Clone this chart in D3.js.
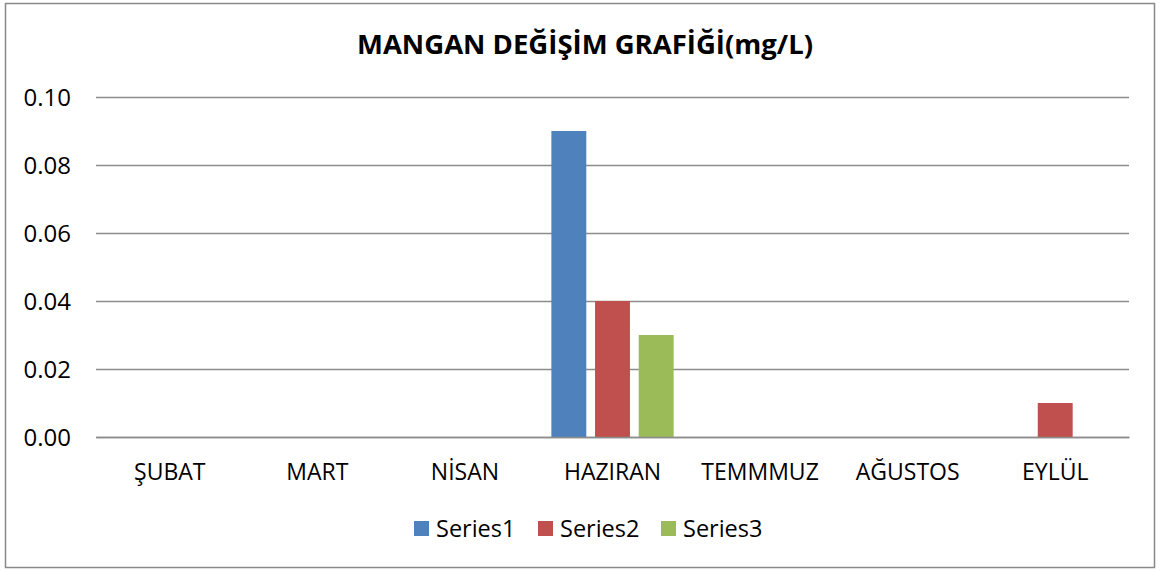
<!DOCTYPE html>
<html>
<head>
<meta charset="utf-8">
<script src="https://cdn.jsdelivr.net/npm/d3@7"></script>
<style>
  body { margin: 0; background: #fff; }
  text { font-family: "Open Sans", "Noto Sans", sans-serif; fill: #000; }
</style>
</head>
<body>
<svg class="svg-chart"></svg>
<script>
// months on the x axis
var months = ["ŞUBAT", "MART", "NİSAN", "HAZIRAN", "TEMMMUZ", "AĞUSTOS", "EYLÜL"];
var seriesNames = ["Series1", "Series2", "Series3"];
var series1 = [0, 0, 0, 0.09, 0, 0, 0];
var series2 = [0, 0, 0, 0.04, 0, 0, 0.01];
var series3 = [0, 0, 0, 0.03, 0, 0, 0];
var yTicks = [0, 0.02, 0.04, 0.06, 0.08, 0.10];
var colors = ["#4f81bd", "#c0504d", "#9bbb59"];
var title = "MANGAN DEĞİŞİM GRAFİĞİ(mg/L)";

var W = 1159, H = 570;
var margin = {top: 97, right: 30, bottom: 133, left: 96},
    width = W - margin.left - margin.right,
    height = H - margin.top - margin.bottom;

var svg = d3.select(".svg-chart")
    .attr("width", W)
    .attr("height", H);

// outer frame
svg.append("rect")
    .attr("x", 5.5).attr("y", 3.5)
    .attr("width", 1149).attr("height", 564)
    .style("fill", "#fff")
    .style("stroke", "#898989")
    .style("stroke-width", 1.5);

svg.append("text")
    .attr("x", 585).attr("y", 54)
    .attr("text-anchor", "middle")
    .style("font-weight", "bold")
    .style("font-size", "27.5px")
    .text(title);

var chart = svg.append("g")
    .attr("transform", "translate(" + margin.left + "," + margin.top + ")");

var x0 = d3.scaleBand()
    .domain(months)
    .range([0, width]);

var x1 = d3.scaleBand()
    .domain(seriesNames)
    .range([0, x0.bandwidth()])
    .paddingInner(0.2)
    .paddingOuter(0.29);

var y = d3.scaleLinear()
    .domain([0, 0.10])
    .range([height, 0]);

// gridlines + tick labels
var yAxis = d3.axisLeft(y)
    .tickValues(yTicks)
    .tickSize(-width)
    .tickPadding(25)
    .tickFormat(d3.format(".2f"));

var yg = chart.append("g").call(yAxis);
yg.select(".domain").remove();
yg.selectAll("line")
    .style("stroke", "#8c8c8c")
    .style("stroke-width", 1.5);
yg.selectAll("text")
    .style("font-size", "24px")
    .attr("dy", "0.36em");
yg.attr("font-family", null).attr("font-size", null);

var rows = seriesNames.map(function(s, i) {
  var vals = [series1, series2, series3][i];
  return months.map(function(m, j) { return {series: s, month: m, value: vals[j], i: i}; });
});

chart.selectAll(".series")
    .data(rows)
    .enter().append("g")
    .attr("class", "series")
    .style("fill", function(d, i) { return colors[i]; })
    .selectAll("rect")
    .data(function(d) { return d.filter(function(e) { return e.value > 0; }); })
    .enter().append("rect")
    .attr("x", function(d) { return x0(d.month) + x1(d.series); })
    .attr("y", function(d) { return y(d.value); })
    .attr("width", x1.bandwidth())
    .attr("height", function(d) { return height - y(d.value); });

// category axis
var xAxis = d3.axisBottom(x0).tickSize(0).tickPadding(0);
var xg = chart.append("g")
    .attr("transform", "translate(0," + height + ")")
    .call(xAxis);
xg.attr("font-family", null).attr("font-size", null);
xg.select(".domain")
    .style("stroke", "#8c8c8c")
    .style("stroke-width", 1.5);
xg.selectAll("text")
    .style("font-size", "23px")
    .attr("dy", null)
    .attr("y", 43);

// legend
var legendX = [414, 538, 661];
var legend = svg.append("g").selectAll("g")
    .data(seriesNames)
    .enter().append("g")
    .attr("transform", function(d, i) { return "translate(" + legendX[i] + ",521)"; });
legend.append("rect")
    .attr("width", 15).attr("height", 15)
    .style("fill", function(d, i) { return colors[i]; });
legend.append("text")
    .attr("x", 22).attr("y", 16)
    .style("font-size", "23.5px")
    .text(function(d) { return d; });
</script>
</body>
</html>
